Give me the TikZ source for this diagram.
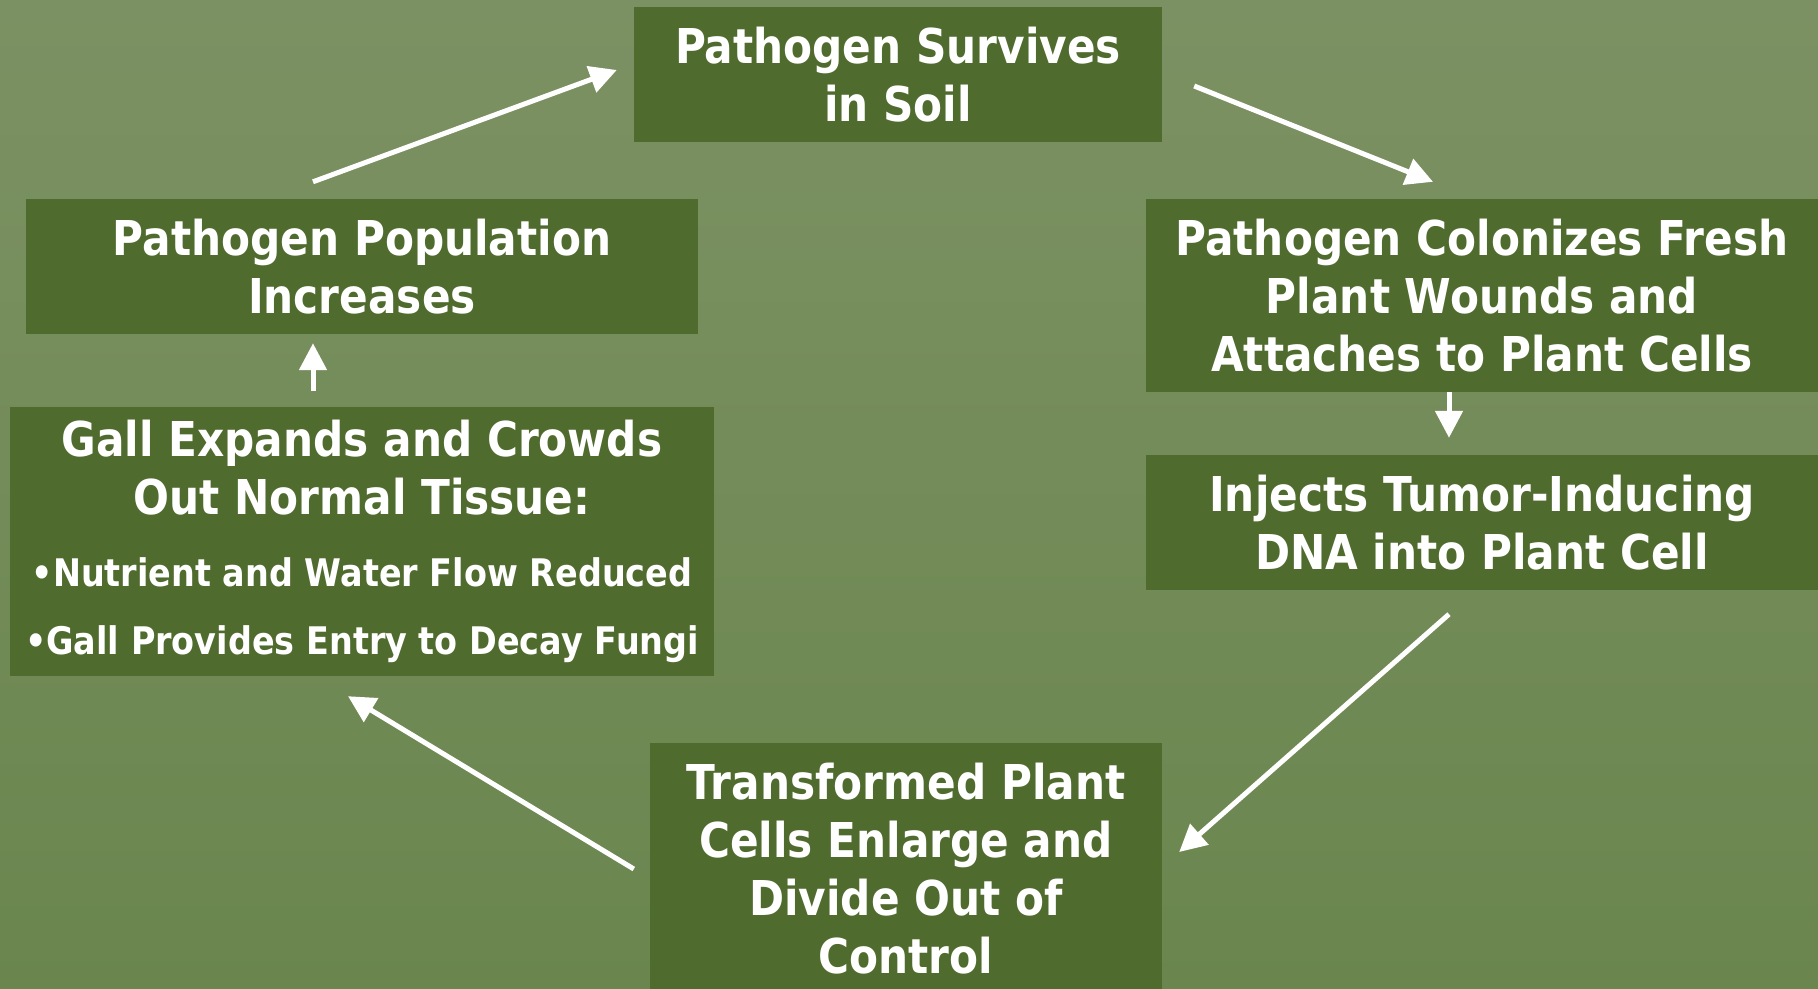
\documentclass[tikz,border=0pt]{standalone}
\usepackage{fontspec}
\usepackage{xcolor}
\usetikzlibrary{arrows.meta,calc}
\newfontfamily\slidefont[FakeStretch=0.88]{DejaVu Sans}
\newcommand{\bulletsize}{\fontsize{38}{58}\selectfont}
\definecolor{boxgreen}{RGB}{80,107,46}
\definecolor{bgtop}{RGB}{124,145,99}
\definecolor{bgbottom}{RGB}{106,134,78}

\begin{document}
\begin{tikzpicture}[x=1pt, y=-1pt,
    stage/.style={fill=boxgreen, text=white, align=center, inner sep=0pt,
      font=\slidefont\bfseries\fontsize{48}{58}\selectfont},
    flow/.style={draw=white, line width=5pt, -{Triangle[length=27pt,width=27pt]}}]
  % slide background
  \shade[top color=bgtop, bottom color=bgbottom] (0,0) rectangle (1818,988);
  \useasboundingbox (0,0) rectangle (1818,988);

  % the six stages of the cycle
  \node[stage, minimum width=528pt, minimum height=135pt] (soil) at (898,74.5) {Pathogen Survives\\in Soil};
  \node[stage, minimum width=672pt, minimum height=193pt] (colon) at (1482,295.5) {Pathogen Colonizes Fresh\\Plant Wounds and\\Attaches to Plant Cells};
  \node[stage, minimum width=672pt, minimum height=135pt] (inject) at (1482,522.5) {Injects Tumor-Inducing\\DNA into Plant Cell};
  \node[stage, minimum width=512pt, minimum height=252pt] (trans) at (906,869) {Transformed Plant\\Cells Enlarge and\\Divide Out of\\Control};
  \node[stage, minimum width=704pt, minimum height=269pt] (gall) at (362,541.5) {Gall Expands and Crowds\\Out Normal Tissue:\\[14pt]
    \bulletsize •Nutrient and Water Flow Reduced\\[10pt]\bulletsize •Gall Provides Entry to Decay Fungi};
  \node[stage, minimum width=672pt, minimum height=135pt] (pop) at (362,266.5) {Pathogen Population\\Increases};

  % arrows
  \draw[flow] ([xshift=-49pt,yshift=17pt]pop.north) -- ([xshift=-17pt,yshift=4.5pt]soil.west);
  \draw[flow] ([xshift=32pt,yshift=-11.5pt]soil.east) -- ([xshift=-49pt,yshift=17pt]colon.north);
  \draw[flow] ([xshift=-33pt]colon.south) -- ([xshift=-33pt,yshift=17pt]inject.north);
  \draw[flow] ([xshift=-33pt,yshift=-24pt]inject.south) -- ([xshift=17pt,yshift=17pt]trans.east);
  \draw[flow] ([xshift=-16pt]trans.west) -- ([xshift=-14pt,yshift=-20pt]gall.south);
  \draw[flow] ([xshift=-49pt,yshift=16pt]gall.north) -- ([xshift=-49pt,yshift=-9pt]pop.south);
\end{tikzpicture}
\end{document}
